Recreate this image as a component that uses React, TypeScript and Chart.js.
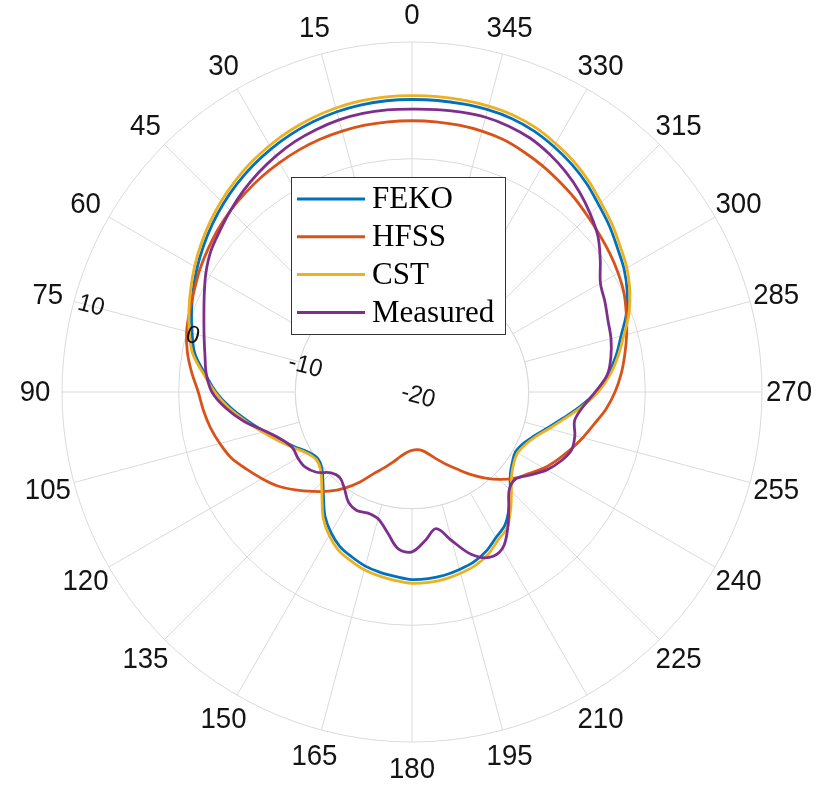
import React, { useEffect, useRef } from 'react';
import { Chart, registerables } from 'chart.js';

Chart.register(...registerables);

// Azimuth (deg, counter-clockwise from the top) sampled every 5 degrees
const azimuths = Array.from({ length: 72 }, (_, i) => i * 5);

// Gain in dB at each azimuth above
const feko = [
  5.07, 5.06, 5.0, 4.87, 4.67, 4.41, 4.09, 3.73, 3.31, 2.85,
  2.35, 1.82, 1.27, 0.69, 0.11, -0.49, -1.1, -2.2, -3.2, -4.4,
  -5.7, -6.9, -7.96, -8.9, -9.7, -10.1, -9.9, -9.2, -8.2, -7.0,
  -6.1, -5.38, -4.95, -4.55, -4.3, -4.12, -3.92, -3.95, -4.05, -4.25,
  -4.5, -4.95, -5.6, -6.1, -7.05, -8.1, -9.0, -9.5, -9.75, -9.5,
  -8.9, -8.0, -6.9, -5.55, -4.2, -3.15, -2.25, -1.45, -0.45, 0.35,
  1.0, 1.5, 2.1, 2.65, 3.3, 3.85, 4.3, 4.7, 4.95, 5.05, 5.07, 5.08,
];
const hfss = [
  3.25, 3.25, 3.22, 3.15, 3.05, 2.9, 2.7, 2.5, 2.25, 2.0,
  1.7, 1.35, 1.0, 0.6, 0.28, 0.0, -0.45, -1.05, -1.68, -2.05,
  -2.45, -2.95, -3.5, -4.35, -5.15, -5.95, -6.95, -7.95, -8.9, -9.95,
  -11.1, -12.3, -13.1, -13.8, -14.4, -14.8, -15.0, -15.05, -14.9, -14.5,
  -13.9, -13.2, -12.4, -11.4, -10.4, -9.4, -8.5, -7.8, -6.95, -6.25,
  -5.55, -4.85, -4.15, -3.3, -2.6, -2.0, -1.48, -0.95, -0.45, 0.05,
  0.4, 0.7, 0.98, 1.3, 1.68, 2.02, 2.38, 2.7, 3.0, 3.15, 3.22, 3.25,
];
const cst = [
  5.4, 5.39, 5.33, 5.2, 5.0, 4.73, 4.4, 4.03, 3.6, 3.13,
  2.62, 2.08, 1.52, 0.93, 0.35, -0.24, -0.9, -2.05, -3.1, -4.25,
  -5.55, -6.75, -7.8, -8.75, -9.55, -9.95, -9.75, -9.05, -8.0, -6.75,
  -5.8, -5.05, -4.62, -4.22, -3.97, -3.78, -3.6, -3.62, -3.72, -3.92,
  -4.17, -4.62, -5.3, -5.8, -6.85, -7.95, -8.85, -9.35, -9.55, -9.3,
  -8.75, -7.85, -6.75, -5.4, -4.05, -2.95, -2.05, -1.2, -0.2, 0.6,
  1.27, 1.78, 2.38, 2.93, 3.58, 4.15, 4.6, 5.02, 5.27, 5.37, 5.4, 5.41,
];
const measured = [
  4.25, 4.27, 4.25, 4.15, 3.95, 3.7, 3.35, 2.95, 2.5, 2.0,
  1.5, 1.05, 0.4, -0.35, -1.02, -1.55, -1.98, -2.3, -2.85, -4.0,
  -5.4, -7.0, -8.1, -8.7, -8.7, -8.8, -9.3, -10.2, -10.4, -9.9,
  -9.1, -8.8, -8.95, -8.75, -7.8, -6.5, -6.3, -7.2, -8.1, -6.8,
  -5.2, -4.35, -4.5, -5.7, -7.1, -8.2, -8.4, -7.6, -6.65, -5.95,
  -5.45, -5.55, -5.85, -5.3, -4.3, -3.2, -2.69, -2.34, -2.12, -1.75,
  -1.35, -0.3, 0.8, 1.6, 2.35, 3.0, 3.55, 4.0, 4.25, 4.38, 4.35, 4.3,
];

const seriesNames = ['FEKO', 'HFSS', 'CST', 'Measured'];
const seriesColors = ['#0072BD', '#D95319', '#EDB120', '#7E2F8E'];
const seriesValues = [feko, hfss, cst, measured];

// Angular tick labels (every 15 degrees) and radial ticks (dB)
const angleTicks = [0, 15, 30, 45, 60, 75, 90, 105, 120, 135, 150, 165, 180, 195, 210, 225, 240, 255, 270, 285, 300, 315, 330, 345];
const radialTicks = [-20, -10, 0, 10];
const radialAxisAngle = 75;

const GRID = '#dadada';
const TEXT = '#141414';

// The radar scale runs clockwise, so spoke i sits at azimuth (360 - 5i) mod 360
const spokeOf = (az: number) => ((360 - az) % 360) / 5;
const spokeAzimuths = azimuths.map((_, i) => azimuths[(azimuths.length - i) % azimuths.length]);
const toSpokes = (vals: number[]) => vals.map((_, i) => vals[(vals.length - i) % vals.length]);

const polarDecor = {
  id: 'polarDecor',
  beforeDatasetsDraw(chart: any) {
    const r = chart.scales.r;
    const ctx = chart.ctx;
    const inner = r.getDistanceFromCenterForValue(radialTicks[1]);
    ctx.save();
    ctx.fillStyle = '#ffffff';
    ctx.beginPath();
    ctx.arc(r.xCenter, r.yCenter, inner - 0.5, 0, Math.PI * 2);
    ctx.fill();
    ctx.strokeStyle = GRID;
    ctx.lineWidth = 1;
    ctx.beginPath();
    ctx.arc(r.xCenter, r.yCenter, inner, 0, Math.PI * 2);
    ctx.stroke();
    ctx.restore();
  },
  afterDatasetsDraw(chart: any) {
    const r = chart.scales.r;
    const ctx = chart.ctx;
    const outer = r.getDistanceFromCenterForValue(r.max);
    ctx.save();

    // angular labels (slightly condensed sans)
    ctx.fillStyle = TEXT;
    ctx.font = '30px "Liberation Sans", Arial, sans-serif';
    ctx.textAlign = 'center';
    ctx.textBaseline = 'middle';
    angleTicks.forEach((a) => {
      const p = r.getPointPosition(spokeOf(a), outer + 27);
      ctx.save();
      ctx.translate(p.x, p.y + 1);
      ctx.scale(0.92, 1);
      ctx.fillText(String(a), 0, 0);
      ctx.restore();
    });

    // radial labels, rotated along the r-axis
    ctx.font = '25px "Liberation Sans", Arial, sans-serif';
    radialTicks.forEach((v) => {
      const d = r.getDistanceFromCenterForValue(v);
      const p = r.getPointPosition(spokeOf(radialAxisAngle), d);
      const shift = v === r.max ? 17 : 6;
      ctx.save();
      ctx.translate(p.x + shift, p.y + 4.5);
      ctx.rotate((15 * Math.PI) / 180);
      ctx.scale(0.95, 1);
      ctx.fillText(String(v), 0, 0);
      ctx.restore();
    });

    // legend
    const bx = r.xCenter - 121;
    const by = r.yCenter - 215;
    const bw = 214;
    const bh = 157;
    ctx.fillStyle = '#ffffff';
    ctx.fillRect(bx, by, bw, bh);
    ctx.strokeStyle = '#333333';
    ctx.lineWidth = 1;
    ctx.strokeRect(bx + 0.5, by + 0.5, bw, bh);
    ctx.font = '31px "Liberation Serif", "Times New Roman", serif';
    ctx.textAlign = 'left';
    ctx.textBaseline = 'middle';
    seriesNames.forEach((name, k) => {
      const y = by + 22 + k * 37.8;
      ctx.strokeStyle = seriesColors[k];
      ctx.lineWidth = 3;
      ctx.beginPath();
      ctx.moveTo(bx + 6, y);
      ctx.lineTo(bx + 74, y);
      ctx.stroke();
      ctx.fillStyle = '#000000';
      ctx.fillText(name, bx + 81, y + 1);
    });
    ctx.restore();
  },
};

export default function App() {
  const canvasRef = useRef<HTMLCanvasElement | null>(null);

  useEffect(() => {
    if (!canvasRef.current) return;
    const chart = new Chart(canvasRef.current, {
      type: 'radar',
      data: {
        labels: spokeAzimuths.map(String),
        datasets: seriesNames.map((name, k) => ({
          label: name,
          data: toSpokes(seriesValues[k]),
          borderColor: seriesColors[k],
          backgroundColor: 'transparent',
          borderWidth: 2.8,
          pointRadius: 0,
          pointHoverRadius: 0,
          fill: false,
          tension: 0.35,
          order: seriesNames.length - k,
        })),
      },
      options: {
        responsive: false,
        animation: false,
        layout: { padding: { left: 62, right: 57, top: 42, bottom: 43 } },
        plugins: { legend: { display: false }, tooltip: { enabled: false } },
        scales: {
          r: {
            min: -20,
            max: 10,
            beginAtZero: false,
            ticks: { display: false, stepSize: 10 },
            grid: {
              circular: true,
              color: (c: any) => (c.tick && c.tick.value === -20 ? 'rgba(0,0,0,0)' : GRID),
              lineWidth: 1,
            },
            angleLines: {
              display: true,
              color: GRID,
              lineWidth: (c: any) => (spokeAzimuths[c.index] % 15 === 0 ? 1 : 0),
            },
            pointLabels: { display: false },
          },
        },
      },
      plugins: [polarDecor],
    });
    return () => chart.destroy();
  }, []);

  return (
    <div style={{ position: 'absolute', left: 0, top: 0, width: 819, height: 785, background: '#fff' }}>
      <canvas ref={canvasRef} width={819} height={785} style={{ display: 'block' }} />
    </div>
  );
}
